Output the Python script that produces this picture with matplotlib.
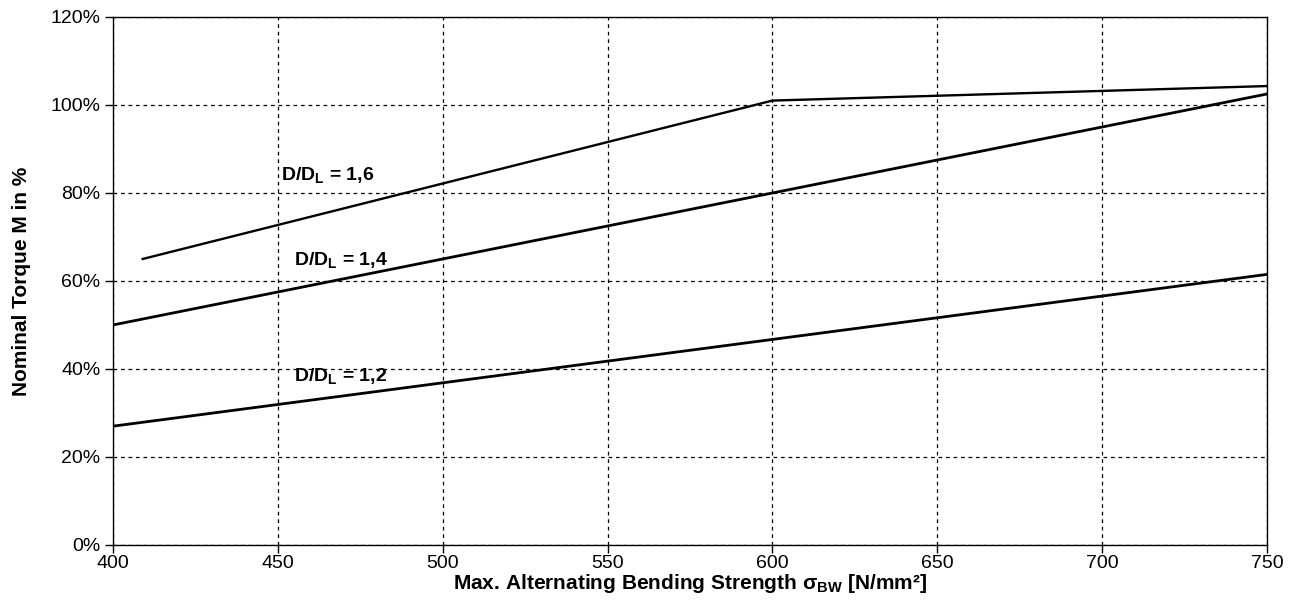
import numpy as np
import matplotlib.pyplot as plt
from matplotlib.ticker import FuncFormatter, MultipleLocator

plt.rcParams['font.family'] = ['Liberation Sans', 'DejaVu Sans']
plt.rcParams['mathtext.fontset'] = 'custom'
plt.rcParams['mathtext.rm'] = 'Liberation Sans'
plt.rcParams['mathtext.it'] = 'Liberation Sans:italic'
plt.rcParams['mathtext.bf'] = 'Liberation Sans:bold'

# data (x in N/mm^2, y in %)
x16 = [409, 600, 750]
y16 = [65, 101, 104.3]
x14 = [400, 750]
y14 = [50, 102.5]
x12 = [400, 750]
y12 = [27, 61.5]

labels = [r"D/D$_\mathbf{L}$ = 1,6", r"D/D$_\mathbf{L}$ = 1,4", r"D/D$_\mathbf{L}$ = 1,2"]
label_pos = [(451, 84), (455, 64.8), (455, 38.3)]

fig = plt.figure(figsize=(12.97, 6), dpi=100)
ax = fig.add_axes([0.0871, 0.0917, 0.8898, 0.8800])

ax.plot(x16, y16, color="black", lw=1.7, solid_joinstyle="miter")
ax.plot(x14, y14, color="black", lw=2.0)
ax.plot(x12, y12, color="black", lw=2.0)

for t, (lx, ly) in zip(labels, label_pos):
    ax.text(lx, ly, t, fontsize=14, fontweight="bold", ha="left", va="center")

ax.set_xlim(400, 750)
ax.set_ylim(0, 120)
ax.xaxis.set_major_locator(MultipleLocator(50))
ax.yaxis.set_major_locator(MultipleLocator(20))
ax.yaxis.set_major_formatter(FuncFormatter(lambda v, p: f"{v:.0f}%"))
ax.grid(True, color="black", lw=0.9, linestyle=(0, (3, 3)))
ax.tick_params(axis="both", labelsize=14, length=6, width=1, direction="out")
ax.tick_params(axis="x", pad=1)
ax.tick_params(axis="y", pad=3)
for s in ax.spines.values():
    s.set_linewidth(1.0)

ax.set_xlabel(r"Max. Alternating Bending Strength σ$_\mathbf{BW}$ [N/mm²]",
              fontsize=15, fontweight="bold", labelpad=0)
ax.set_ylabel("Nominal Torque M in %", fontsize=15, fontweight="bold", labelpad=14)

plt.savefig("out.png", dpi=100)
